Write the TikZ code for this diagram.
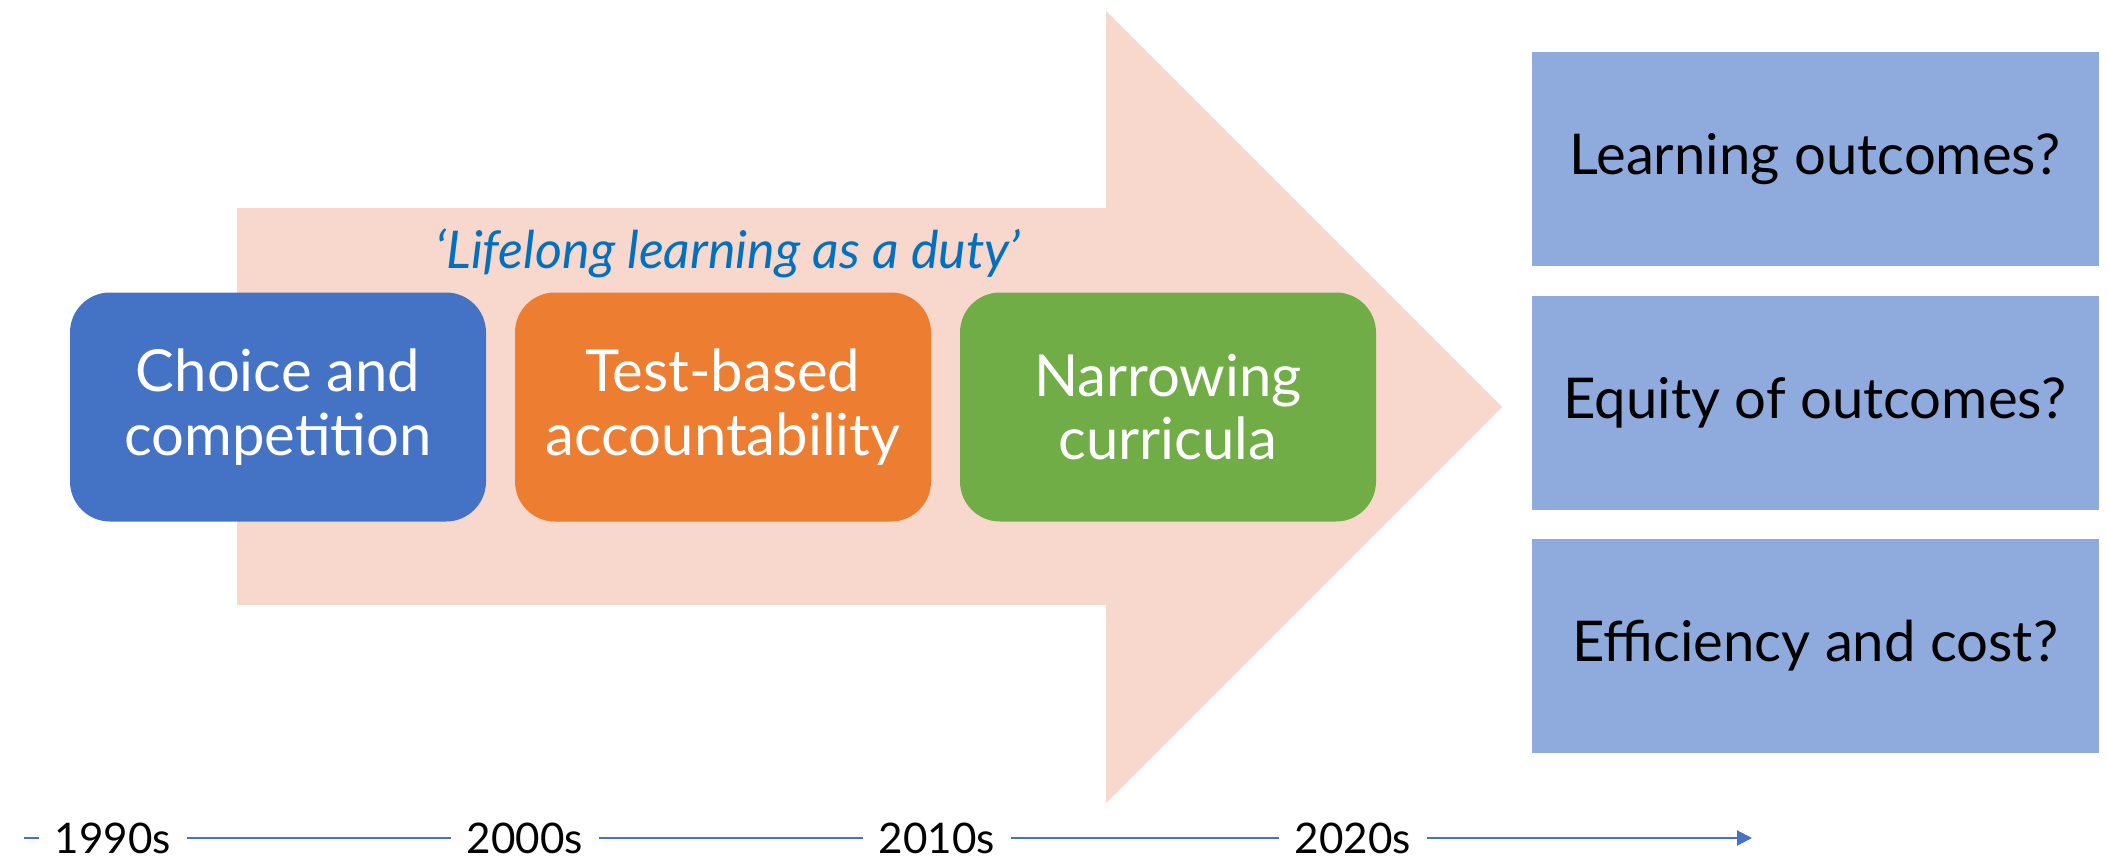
\documentclass[tikz,border=0pt]{standalone}
\usepackage{fontspec}
\setmainfont{Lato}
\usetikzlibrary{arrows.meta}

\definecolor{peach}{HTML}{F8D7CC}
\definecolor{boxblue}{HTML}{4472C4}
\definecolor{boxorange}{HTML}{ED7D31}
\definecolor{boxgreen}{HTML}{70AD47}
\definecolor{qblue}{HTML}{8FAADC}
\definecolor{quoteblue}{HTML}{0070C0}

\tikzset{
  phase/.style={rounded corners=0.4cm, minimum width=4.16cm, minimum height=2.29cm,
    align=center, text=white, font=\fontsize{16.5}{18}\selectfont},
  question/.style={fill=qblue, minimum width=5.67cm, minimum height=2.14cm,
    font=\fontsize{16}{19}\selectfont},
  decade/.style={inner sep=0.15cm, font=\fontsize{12}{14}\selectfont},
  timeline/.style={draw=boxblue, line width=0.6pt}
}

\begin{document}
\begin{tikzpicture}
\useasboundingbox (0,0) rectangle (21.09,-8.6);
% big background arrow
\fill[peach] (2.37,-2.08) -- (11.06,-2.08) -- (11.06,-0.11) -- (15.02,-4.07)
  -- (11.06,-8.03) -- (11.06,-6.05) -- (2.37,-6.05) -- cycle;
\node[text=quoteblue, font=\fontsize{14.8}{18}\selectfont\itshape] (duty) at (7.28,-2.53) {`Lifelong learning as a duty'};
% the three phases
\node[phase, fill=boxblue] (choice) at (2.78,-4.07) {Choice and\\competition};
\node[phase, fill=boxorange] (test) at (7.23,-4.07) {Test-based\\accountability};
\node[phase, fill=boxgreen] (narrow) at (11.68,-4.07) {Narrowing\\curricula};
% questions
\node[question] (learning) at (18.15,-1.59) {Learning outcomes?};
\node[question] (equity) at (18.15,-4.03) {Equity of outcomes?};
\node[question] (cost) at (18.15,-6.46) {Efficiency and cost?};
% timeline
\coordinate (tstart) at (0.24,-8.38);
\coordinate (tend) at (17.52,-8.38);
\node[decade] (y1990) at (1.13,-8.38) {1990s};
\node[decade] (y2000) at (5.25,-8.38) {2000s};
\node[decade] (y2010) at (9.37,-8.38) {2010s};
\node[decade] (y2020) at (13.53,-8.38) {2020s};
\draw[timeline] (tstart) -- (y1990);
\draw[timeline] (y1990) -- (y2000);
\draw[timeline] (y2000) -- (y2010);
\draw[timeline] (y2010) -- (y2020);
\draw[timeline, -{Triangle[length=0.15cm, width=0.15cm]}] (y2020) -- (tend);
\end{tikzpicture}
\end{document}
